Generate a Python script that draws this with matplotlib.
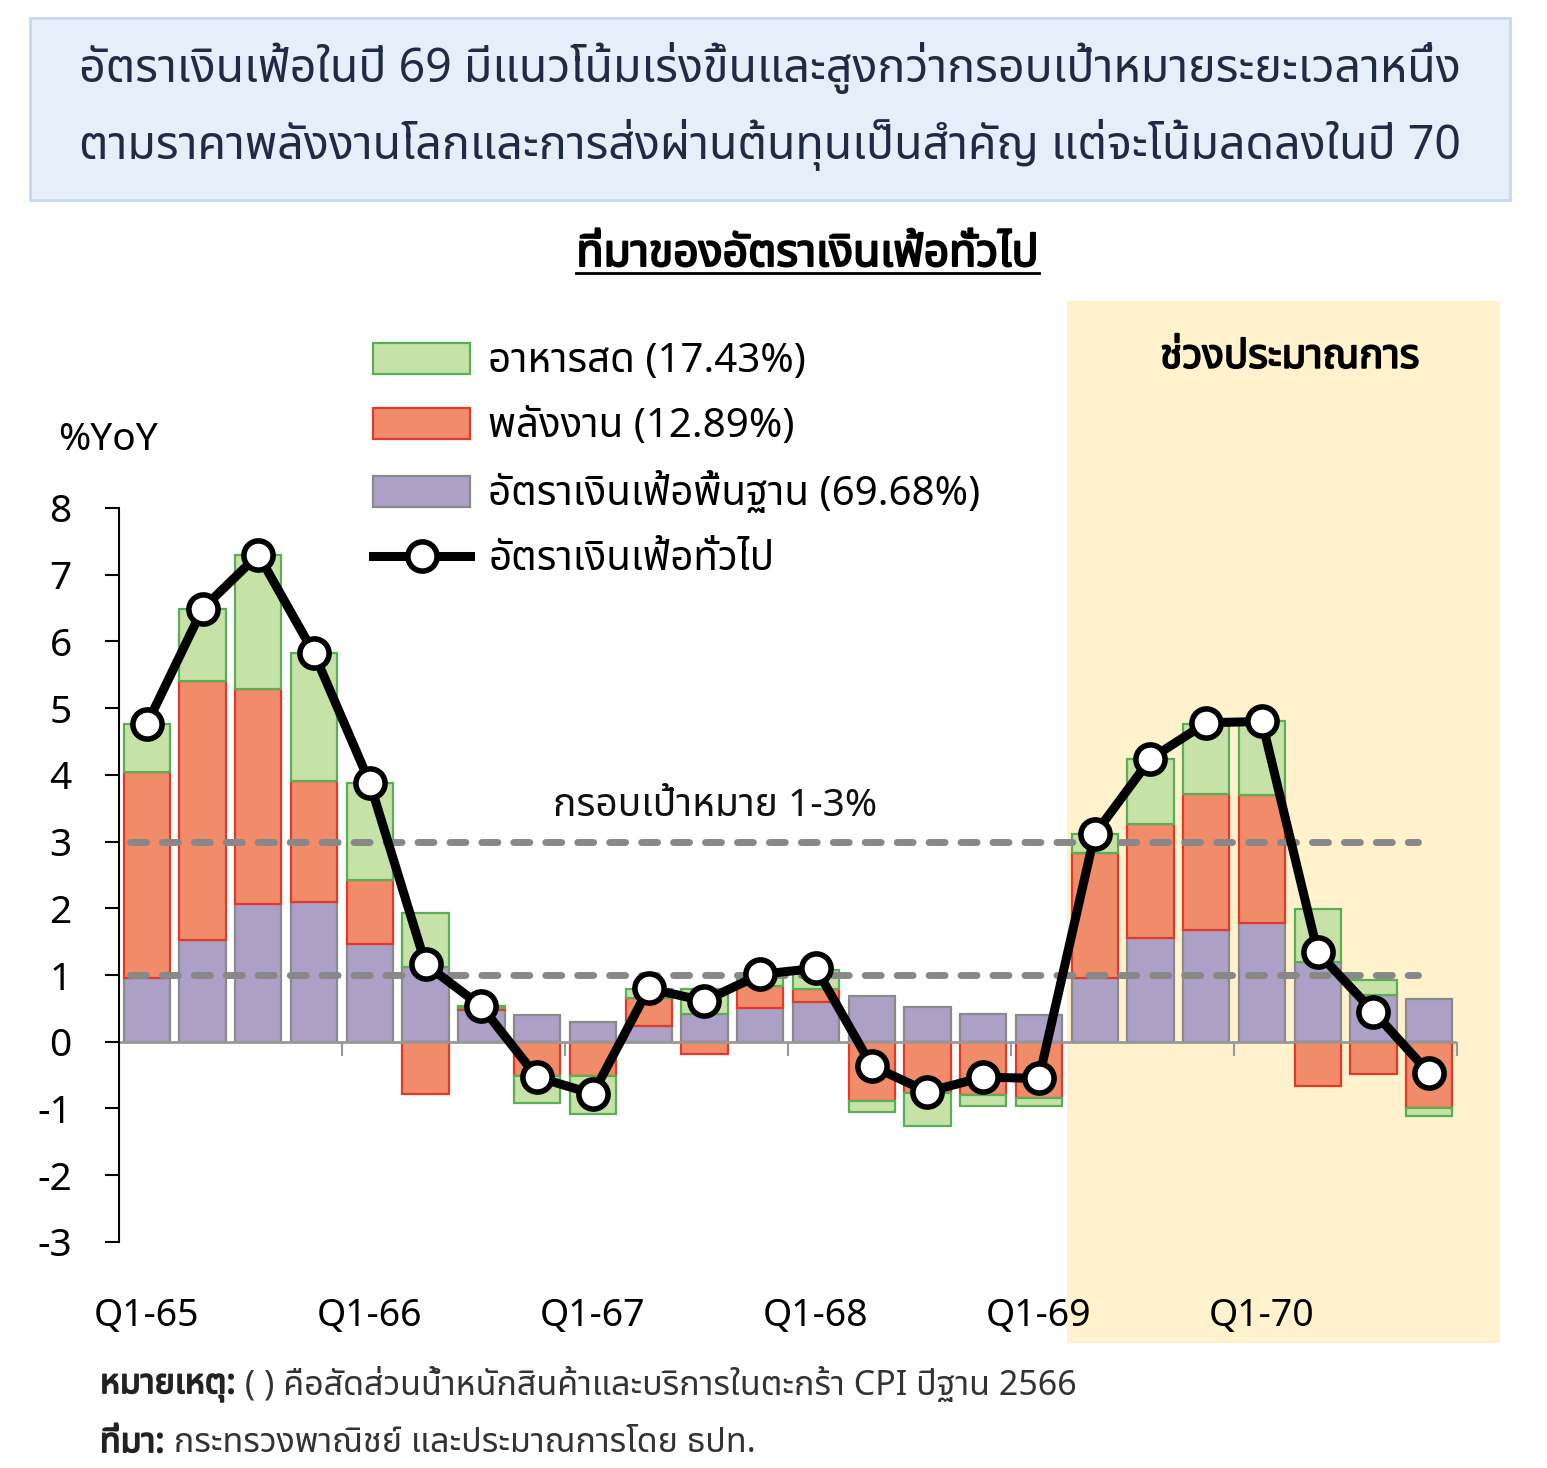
import numpy as np
import matplotlib
matplotlib.use("Agg")
import matplotlib.pyplot as plt
import matplotlib.patheffects as pe
from matplotlib import font_manager
from matplotlib.ft2font import FT2Font
from matplotlib.patches import Rectangle
from matplotlib.lines import Line2D

# look for fonts that have Thai glyphs
thai_fonts = []
for f in font_manager.fontManager.ttflist:
    try:
        cm = FT2Font(f.fname).get_charmap()
    except Exception:
        continue
    if 0x0E01 in cm and f.name not in thai_fonts:
        thai_fonts.append(f.name)
preferred = ['Noto Sans Thai', 'Noto Sans Thai Looped', 'Loma', 'Garuda', 'Tlwg Typo']
thai_fonts.sort(key=lambda n: preferred.index(n) if n in preferred else 99)
family = thai_fonts[:1]
plt.rcParams['font.family'] = family + ['DejaVu Sans']
weights = [f.weight for f in font_manager.fontManager.ttflist if family and f.name == family[0]]
has_bold = any((w if isinstance(w, int) else 700 if 'bold' in str(w) else 400) >= 600 for w in weights)

quarters = ['Q1-65', 'Q2-65', 'Q3-65', 'Q4-65', 'Q1-66', 'Q2-66', 'Q3-66', 'Q4-66',
            'Q1-67', 'Q2-67', 'Q3-67', 'Q4-67', 'Q1-68', 'Q2-68', 'Q3-68', 'Q4-68',
            'Q1-69', 'Q2-69', 'Q3-69', 'Q4-69', 'Q1-70', 'Q2-70', 'Q3-70', 'Q4-70']
core = [0.96, 1.52, 2.06, 2.10, 1.47, 1.12, 0.48, 0.40, 0.29, 0.23, 0.41, 0.51,
        0.59, 0.69, 0.52, 0.42, 0.40, 0.96, 1.55, 1.67, 1.78, 1.20, 0.70, 0.64]
energy = [3.09, 3.89, 3.23, 1.81, 0.96, -0.79, 0.02, -0.52, -0.52, 0.43, -0.18, 0.32,
          0.20, -0.89, -0.77, -0.80, -0.84, 1.87, 1.71, 2.05, 1.92, -0.67, -0.48, -1.00]
food = [0.71, 1.07, 2.01, 1.91, 1.45, 0.81, 0.04, -0.40, -0.56, 0.13, 0.38, 0.15,
        0.28, -0.17, -0.50, -0.16, -0.12, 0.28, 0.98, 1.04, 1.10, 0.79, 0.22, -0.12]
headline = [4.76, 6.49, 7.30, 5.82, 3.88, 1.16, 0.53, -0.53, -0.78, 0.80, 0.61, 1.01,
            1.10, -0.36, -0.75, -0.53, -0.55, 3.11, 4.24, 4.78, 4.80, 1.34, 0.45, -0.47]
target_low, target_high = 1, 3
forecast_start = 'Q2-69'

labels = ['อาหารสด (17.43%)', 'พลังงาน (12.89%)', 'อัตราเงินเฟ้อพื้นฐาน (69.68%)', 'อัตราเงินเฟ้อทั่วไป']

title_lines = ['อัตราเงินเฟ้อในปี 69 มีแนวโน้มเร่งขึ้นและสูงกว่ากรอบเป้าหมายระยะเวลาหนึ่ง',
               'ตามราคาพลังงานโลกและการส่งผ่านต้นทุนเป็นสำคัญ แต่จะโน้มลดลงในปี 70']
subtitle = 'ที่มาของอัตราเงินเฟ้อทั่วไป'

navy = '#1f2a44'
fs = 28


def bold_kw(color='black', lw=1.3):
    if has_bold:
        return dict(fontweight='bold')
    return dict(path_effects=[pe.withStroke(linewidth=lw, foreground=color)])


fig = plt.figure(figsize=(15.47, 14.68), dpi=100)
ax = fig.add_axes([0.0769, 0.154, 0.865, 0.5])

x = np.arange(len(quarters))
w = 0.83
pos_base = np.zeros(len(x))
neg_base = np.zeros(len(x))
series = [(core, '#aca0c6', '#8a8a8a'), (energy, '#f08c69', '#e2392b'), (food, '#c6e2a6', '#5aae55')]
handles = []
for vals, fc, ec in series:
    v = np.array(vals)
    base = np.where(v >= 0, pos_base, neg_base)
    b = ax.bar(x, v, w, bottom=base, color=fc, edgecolor=ec, linewidth=1.6, zorder=2)
    handles.append(b)
    pos_base = pos_base + np.where(v >= 0, v, 0)
    neg_base = neg_base + np.where(v < 0, v, 0)

# target band lines
for yv in (target_low, target_high):
    ax.hlines(yv, -0.3, 22.8, colors='#888888', linewidth=5, linestyles=(0, (2.3, 2.3)),
              capstyle='round', zorder=3)
ax.text(10.2, target_high + 0.54, 'กรอบเป้าหมาย 1-3%', ha='center', va='center', fontsize=fs, color='#111111')

ln, = ax.plot(x, headline, color='black', linewidth=6.5, marker='o', markersize=21,
              markerfacecolor='white', markeredgecolor='black', markeredgewidth=4, zorder=4)

# forecast shading
fx = quarters.index(forecast_start) - 0.5
ax.add_patch(Rectangle((fx, -4.52), 24.27 - fx, 15.62, facecolor='#fff2cc', edgecolor='none',
                       zorder=0, clip_on=False))
ax.text(20.5, 10.25, 'ช่วงประมาณการ', ha='center', va='center', fontsize=fs + 1, **bold_kw())

ax.set_xlim(-0.5, 23.5)
ax.set_ylim(-3, 8)
ax.set_yticks(range(-3, 9))
ax.set_xticks(x[::4])
ax.set_xticklabels(quarters[::4])
ax.tick_params(axis='x', length=0, pad=40, labelsize=fs - 1)
ax.tick_params(axis='y', length=10, width=1.5, direction='out', pad=24, labelsize=fs)
for s in ('top', 'right', 'bottom'):
    ax.spines[s].set_visible(False)
ax.spines['left'].set_linewidth(1.5)
ax.set_facecolor('none')

# zero axis with group separators
ax.axhline(0, color='#999999', linewidth=2, zorder=2.5)
sec = ax.secondary_xaxis(3 / 11)
sec.set_xticks(np.arange(3.5, 24, 4))
sec.tick_params(length=10, width=1.5, color='#999999', direction='out', labelbottom=False, labeltop=False,
                bottom=True, top=False)
sec.spines['bottom'].set_visible(False)
sec.spines['top'].set_visible(False)

ax.text(-0.008, 1.093, '%YoY', transform=ax.transAxes, ha='center', va='center', fontsize=fs)

leg = ax.legend([handles[2], handles[1], handles[0], ln], labels, loc='upper left',
                bbox_to_anchor=(0.163, 1.275), frameon=False, fontsize=fs + 1,
                handlelength=2.4, handleheight=0.8, labelspacing=0.62, handletextpad=0.45)

# title box
fig.patches.append(Rectangle((0.0194, 0.8638), 0.9566, 0.1239, transform=fig.transFigure,
                             facecolor='#e5eef9', edgecolor='#c6d7ee', linewidth=2, zorder=0))
fig.text(0.4977, 0.9537, title_lines[0], ha='center', va='center', fontsize=33.5, color=navy)
fig.text(0.4977, 0.9012, title_lines[1], ha='center', va='center', fontsize=33.5, color=navy)
st = fig.text(0.522, 0.8263, subtitle, ha='center', va='center', fontsize=32, **bold_kw(lw=1.5))

# footnotes
fn = 24.5
n1 = fig.text(0.0646, 0.0565, 'หมายเหตุ:', ha='left', va='center', fontsize=fn, color='#222222',
              **bold_kw('#222222', 1.2))
ax.annotate(' ( ) คือสัดส่วนน้ำหนักสินค้าและบริการในตะกร้า CPI ปีฐาน 2566', xy=(1, 0.5), xycoords=n1,
            ha='left', va='center', fontsize=fn, color='#333333', annotation_clip=False)
n2 = fig.text(0.0646, 0.0170, 'ที่มา:', ha='left', va='center', fontsize=fn, color='#222222',
              **bold_kw('#222222', 1.2))
ax.annotate(' กระทรวงพาณิชย์ และประมาณการโดย ธปท.', xy=(1, 0.5), xycoords=n2,
            ha='left', va='center', fontsize=fn, color='#333333', annotation_clip=False)

# underline for subtitle
fig.canvas.draw()
bb = st.get_window_extent().transformed(fig.transFigure.inverted())
fig.add_artist(Line2D([bb.x0, bb.x1], [bb.y0 + 0.003, bb.y0 + 0.003], color='black', linewidth=2,
                      transform=fig.transFigure))

fig.savefig('out.png', dpi=100)
